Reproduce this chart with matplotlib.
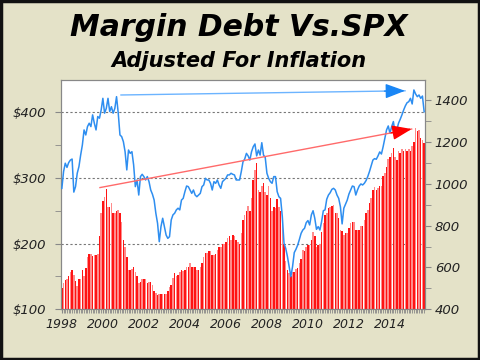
import numpy as np
import matplotlib
matplotlib.use("Agg")
import matplotlib.pyplot as plt
from matplotlib.patches import Rectangle

# monthly values, Jan 1998 onward
margin_debt = [
    133, 140, 145, 146, 150, 156, 160, 152, 143, 136, 146, 146,
    160, 150, 163, 179, 184, 184, 181, 182, 182, 184, 211, 247,
    264, 271, 283, 256, 255, 261, 246, 247, 249, 251, 246, 233,
    206, 195, 180, 160, 160, 161, 165, 156, 150, 140, 142, 146,
    146, 146, 140, 142, 141, 137, 128, 125, 122, 123, 123, 124,
    124, 123, 128, 134, 137, 147, 155, 150, 152, 156, 160, 158,
    160, 165, 165, 170, 165, 165, 165, 159, 159, 165, 170, 179,
    185, 186, 188, 189, 183, 183, 184, 190, 195, 194, 200, 200,
    203, 209, 212, 206, 213, 211, 206, 203, 200, 216, 236, 244,
    250, 257, 249, 269, 297, 312, 323, 282, 279, 287, 292, 279,
    274, 287, 269, 250, 256, 254, 267, 256, 249, 231, 200, 173,
    160, 155, 150, 156, 157, 162, 163, 170, 177, 190, 189, 195,
    198, 198, 206, 218, 211, 195, 198, 200, 218, 231, 244, 246,
    254, 256, 257, 259, 247, 246, 239, 221, 219, 213, 216, 216,
    223, 231, 233, 233, 221, 221, 221, 226, 226, 236, 246, 251,
    261, 269, 282, 286, 282, 284, 287, 287, 302, 307, 317, 328,
    332, 338, 345, 332, 327, 340, 338, 343, 340, 343, 340, 343,
    340, 348, 355, 376, 371, 372, 360, 358, 353,
]

spx = [
    978, 1058, 1098, 1078, 1101, 1113, 1118, 960, 986, 1050, 1082, 1137,
    1185, 1257, 1233, 1273, 1289, 1273, 1329, 1289, 1257, 1321, 1313, 1352,
    1408, 1337, 1360, 1408, 1345, 1368, 1337, 1360, 1416, 1337, 1233, 1225,
    1201, 1153, 1066, 1161, 1145, 1153, 1090, 986, 1018, 946, 1034, 1045,
    1034, 1018, 1034, 1010, 970, 950, 922, 859, 811, 723, 795, 835,
    795, 755, 739, 747, 827, 851, 859, 875, 883, 875, 922, 930,
    962, 989, 986, 970, 954, 970, 946, 938, 946, 954, 986, 994,
    1026, 1018, 1018, 1002, 970, 1010, 1002, 1018, 994, 978, 1010, 1018,
    1026, 1042, 1042, 1050, 1045, 1042, 1018, 1018, 1018, 1058, 1105, 1118,
    1145, 1133, 1113, 1153, 1177, 1190, 1133, 1161, 1137, 1196, 1137, 1126,
    1050, 1026, 1010, 1002, 1034, 1034, 962, 938, 930, 843, 715, 691,
    652, 604, 556, 604, 671, 687, 707, 734, 763, 779, 787, 814,
    824, 803, 851, 871, 835, 782, 795, 779, 819, 871, 875, 926,
    946, 957, 973, 978, 970, 946, 930, 890, 808, 883, 903, 922,
    951, 970, 989, 986, 946, 970, 989, 999, 994, 1002, 1015, 1034,
    1058, 1085, 1113, 1120, 1117, 1133, 1152, 1142, 1177, 1217, 1257, 1276,
    1241, 1273, 1297, 1241, 1257, 1289, 1308, 1329, 1352, 1372, 1387, 1392,
    1408, 1381, 1448, 1429, 1416, 1424, 1408, 1419, 1344,
]

year_labels = ["1998", "2000", "2002", "2004", "2006", "2008", "2010", "2012", "2014"]
left_ticks = [100, 200, 300, 400]
left_labels = ["$100", "$200", "$300", "$400"]
right_ticks = [400, 600, 800, 1000, 1200, 1400]

# trend arrows: (month index, value) start -> end
blue_arrow = [(34.6, 1424), (200.8, 1444)]   # right axis
red_arrow = [(22.3, 285), (204.7, 374)]      # left axis

months = np.arange(len(margin_debt))
bg = "#e4e2c8"
txt = "#222222"
spine_c = "#888888"

fig = plt.figure(figsize=(4.8, 3.6), dpi=100, facecolor=bg)
fig.patches.append(Rectangle((0.003, 0.004), 0.994, 0.992, transform=fig.transFigure,
                             fill=False, edgecolor="#111111", lw=2.5))

ax = fig.add_axes([61 / 480, 1 - 309.3 / 360, 364 / 480, 229.3 / 360])
ax.set_facecolor("white")

bar_colors = ["#ff1414" if i % 2 == 0 else "#ff8c8c" for i in months]
ax.bar(months, margin_debt, width=0.9, color=bar_colors, zorder=2)

for lvl in [200, 300, 400]:
    ax.axhline(lvl, color="#777777", lw=0.8, ls=(0, (2, 2)), zorder=1)

ax.set_xlim(-0.5, len(margin_debt) - 0.5)
ax.set_ylim(100, 448.5)
ax.set_yticks(left_ticks)
ax.set_yticklabels(left_labels)
ax.set_yticks([150, 250, 350], minor=True)
ax.set_xticks([24 * k for k in range(len(year_labels))])
ax.set_xticklabels(year_labels)
ax.set_xticks(months, minor=True)

for s in ax.spines.values():
    s.set_color(spine_c)
ax.tick_params(axis="y", which="both", direction="out", length=4, color=spine_c,
               labelsize=9.5, labelcolor=txt, pad=7)
ax.tick_params(axis="x", which="both", direction="out", length=3, color=spine_c,
               labelsize=9, labelcolor=txt, pad=3)
for lab in ax.get_yticklabels() + ax.get_xticklabels():
    lab.set_fontstyle("italic")

ax2 = ax.twinx()
ax2.plot(months, spx, color="#2e8ef0", lw=1.1, zorder=3)
ax2.set_ylim(400, 1495.6)
ax2.set_yticks(right_ticks)
ax2.set_yticks([500, 700, 900, 1100, 1300], minor=True)
for s in ax2.spines.values():
    s.set_color(spine_c)
ax2.tick_params(axis="y", which="both", direction="out", length=4, color=spine_c,
                labelsize=9.5, labelcolor=txt, pad=3)
for lab in ax2.get_yticklabels():
    lab.set_fontstyle("italic")

# blue arrow (right axis)
(bx0, by0), (bx1, by1) = blue_arrow
ax2.plot([bx0, bx1], [by0, by1], color="#6cb4ff", lw=1.0, zorder=4)
ax2.annotate("", xy=(bx1, by1), xytext=(bx1 - 12, by1 - 12 * (by1 - by0) / (bx1 - bx0)),
             arrowprops=dict(arrowstyle="-|>,head_length=1.2,head_width=0.45",
                             color="#1a86f5", lw=1.0, mutation_scale=10,
                             shrinkA=0, shrinkB=0), zorder=5)

# red arrow (left axis values, drawn above the line)
(rx0, ry0), (rx1, ry1) = red_arrow
ax2.plot([rx0, rx1], [ry0, ry1], color="#ff6a6a", lw=1.0, zorder=4, transform=ax.transData)
ax2.annotate("", xy=(rx1, ry1), xytext=(rx1 - 12, ry1 - 12 * (ry1 - ry0) / (rx1 - rx0)),
             xycoords=ax.transData, textcoords=ax.transData,
             arrowprops=dict(arrowstyle="-|>,head_length=1.2,head_width=0.45",
                             color="#ff0000", lw=1.0, mutation_scale=10,
                             shrinkA=0, shrinkB=0), zorder=5)

fig.text(0.498, 0.925, "Margin Debt Vs.SPX", ha="center", va="center",
         fontsize=21.5, fontweight="bold", fontstyle="italic", color="black")
fig.text(0.498, 0.83, "Adjusted For Inflation", ha="center", va="center",
         fontsize=15, fontweight="bold", fontstyle="italic", color="black")

fig.savefig("out.png", dpi=100, facecolor=bg)
